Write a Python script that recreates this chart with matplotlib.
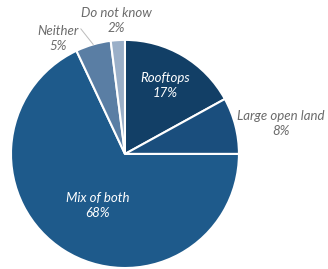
#!/usr/bin/env python3

import matplotlib
matplotlib.use('Agg')
import matplotlib.pyplot as plt
import numpy as np


# Data.
categories = ['Rooftops', 'Large open land', 'Mix of both', 'Neither', 'Do not know']
shares = [17, 8, 68, 5, 2]
colors = ['#123F66', '#1A4E7D', '#1E5A8B', '#5A7EA4', '#9AAFC8']

matplotlib.rcParams['font.family'] = ['Lato', 'DejaVu Sans']

fig = plt.figure(figsize=(3.28, 2.69), dpi=100)
ax = fig.add_axes((0.0335, 0.0037, 0.695, 0.848))

wedges, _ = ax.pie(shares, colors=colors, startangle=90, counterclock=False,
                   wedgeprops=dict(edgecolor='white', linewidth=1.5))
ax.set_xlim(-1, 1)
ax.set_ylim(-1, 1)
ax.set_aspect('auto')

# Label placement: (radius, extra dx, extra dy) around each wedge mid-angle.
place = {
    'Rooftops': (0.70, 0.0, 0.0),
    'Large open land': (1.38, 0.03, -0.08),
    'Mix of both': (0.50, 0.03, -0.03),
    'Neither': (1.10, -0.28, -0.04),
    'Do not know': (1.17, 0.0, 0.0),
}
inside = {'Rooftops', 'Mix of both'}

for w, name, val in zip(wedges, categories, shares):
    ang = np.deg2rad((w.theta1 + w.theta2) / 2)
    r, dx, dy = place[name]
    x = r * np.cos(ang) + dx
    y = r * np.sin(ang) + dy
    col = 'white' if name in inside else '#6b6b6b'
    ax.text(x, y, f'{name}\n{val}%', ha='center', va='center', color=col,
            fontsize=9.5, style='italic', linespacing=1.3, clip_on=False)
    if name == 'Neither':
        ex, ey = np.cos(ang), np.sin(ang)
        ax.plot([x + 0.2, ex * 1.0], [y + 0.08, ey * 1.0], color='#bbbbbb',
                lw=0.7, clip_on=False)

fig.savefig('out.png', dpi=100, facecolor='white')
